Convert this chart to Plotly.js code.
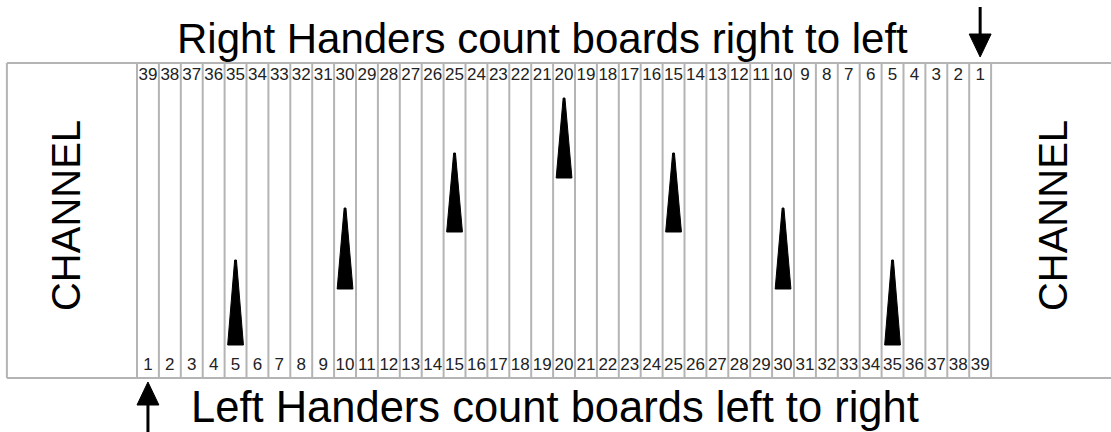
<!DOCTYPE html>
<html>
<head>
<meta charset="utf-8">
<script src="https://cdn.plot.ly/plotly-3.0.1.min.js"></script>
<style>html,body{margin:0;padding:0;background:#fff;}#chart{width:1111px;height:432px;}</style>
</head>
<body>
<div id="chart"></div>
<script>
// ---- data ----
const boards = Array.from({length: 39}, (_, i) => i + 1);          // left-to-right board numbers
const rightHandLabels = boards.map(b => 40 - b);                    // right handers count right to left
const leftHandLabels = boards.slice();                              // left handers count left to right
const arrowBoards = [5, 10, 15, 20, 25, 30, 35];                   // targeting arrows
const arrowTip  = [172, 224, 279, 334, 279, 224, 172];             // lane units (from bottom)
const arrowBase = [87, 143, 200, 254, 200, 143, 87];
const topTitle = "Right Handers count boards right to left";
const bottomTitle = "Left Handers count boards left to right";
const channelLabel = "CHANNEL";

// ---- lane geometry (in axis units) ----
const laneBottom = 54, laneTop = 369;
const laneLeft = -5.94;
const gridColor = "#b4b4b4";
const font = "Liberation Sans, Arial, sans-serif";

const traces = [];

// board divider lines
const bx = [], by = [];
for (let e = 0; e <= boards.length; e++) { bx.push(e, e, null); by.push(laneBottom, laneTop, null); }
traces.push({x: bx, y: by, mode: "lines", line: {color: gridColor, width: 2}, hoverinfo: "skip", showlegend: false});

// targeting arrows (triangles)
arrowBoards.forEach((b, i) => {
  const c = b - 0.5;
  traces.push({
    x: [c - 0.36, c - 0.04, c + 0.04, c + 0.36, c - 0.36],
    y: [arrowBase[i], arrowTip[i], arrowTip[i], arrowBase[i], arrowBase[i]],
    mode: "lines", fill: "toself", fillcolor: "#000", line: {color: "#000", width: 1},
    hoverinfo: "skip", showlegend: false
  });
});

// board numbers
traces.push({x: boards.map(b => b - 0.5), y: boards.map(() => 356), mode: "text",
  text: rightHandLabels.map(String), textfont: {family: font, size: 17, color: "#222"},
  hoverinfo: "skip", showlegend: false});
traces.push({x: boards.map(b => b - 0.5), y: boards.map(() => 66), mode: "text",
  text: leftHandLabels.map(String), textfont: {family: font, size: 17, color: "#222"},
  hoverinfo: "skip", showlegend: false});

// direction arrows (computed from board 1 position for each hand)
const rhX = boards.length - 0.5;   // right handers' board 1
const lhX = 0.5;                   // left handers' board 1
const shapes = [
  {type: "line", xref: "x", yref: "y", x0: laneLeft, x1: 60, y0: laneTop, y1: laneTop, line: {color: gridColor, width: 2}},
  {type: "line", xref: "x", yref: "y", x0: laneLeft, x1: 60, y0: laneBottom, y1: laneBottom, line: {color: gridColor, width: 2}},
  {type: "line", xref: "x", yref: "y", x0: laneLeft, x1: laneLeft, y0: laneBottom, y1: laneTop, line: {color: gridColor, width: 2}},
  {type: "line", xref: "x", yref: "y", x0: rhX, x1: rhX, y0: 425, y1: 395, line: {color: "#000", width: 3}},
  {type: "path", xref: "x", yref: "y", path: `M ${rhX - 0.5} 398 L ${rhX + 0.5} 398 L ${rhX} 375 Z`, fillcolor: "#000", line: {color: "#000", width: 1}},
  {type: "line", xref: "x", yref: "y", x0: lhX, x1: lhX, y0: 0, y1: 30, line: {color: "#000", width: 3}},
  {type: "path", xref: "x", yref: "y", path: `M ${lhX - 0.5} 27 L ${lhX + 0.5} 27 L ${lhX} 50 Z`, fillcolor: "#000", line: {color: "#000", width: 1}}
];

const annotations = [
  {x: 18.5, y: 394, xref: "x", yref: "y", text: topTitle, showarrow: false,
   font: {family: font, size: 42, color: "#000"}},
  {x: 19.1, y: 25, xref: "x", yref: "y", text: bottomTitle, showarrow: false,
   font: {family: font, size: 43.5, color: "#000"}},
  {x: -3.24, y: 216, xref: "x", yref: "y", text: channelLabel, textangle: -90, showarrow: false,
   font: {family: font, size: 40, color: "#000"}},
  {x: 41.83, y: 216, xref: "x", yref: "y", text: channelLabel, textangle: -90, showarrow: false,
   font: {family: font, size: 40, color: "#000"}}
];

const layout = {
  width: 1111, height: 432,
  margin: {l: 0, r: 0, t: 0, b: 0, pad: 0},
  paper_bgcolor: "#fff", plot_bgcolor: "#fff",
  xaxis: {range: [-137 / 21.9, (1111 - 137) / 21.9], visible: false, fixedrange: true},
  yaxis: {range: [0, 432], visible: false, fixedrange: true},
  shapes: shapes, annotations: annotations, showlegend: false
};

Plotly.newPlot("chart", traces, layout, {staticPlot: true, displayModeBar: false});
</script>
</body>
</html>
